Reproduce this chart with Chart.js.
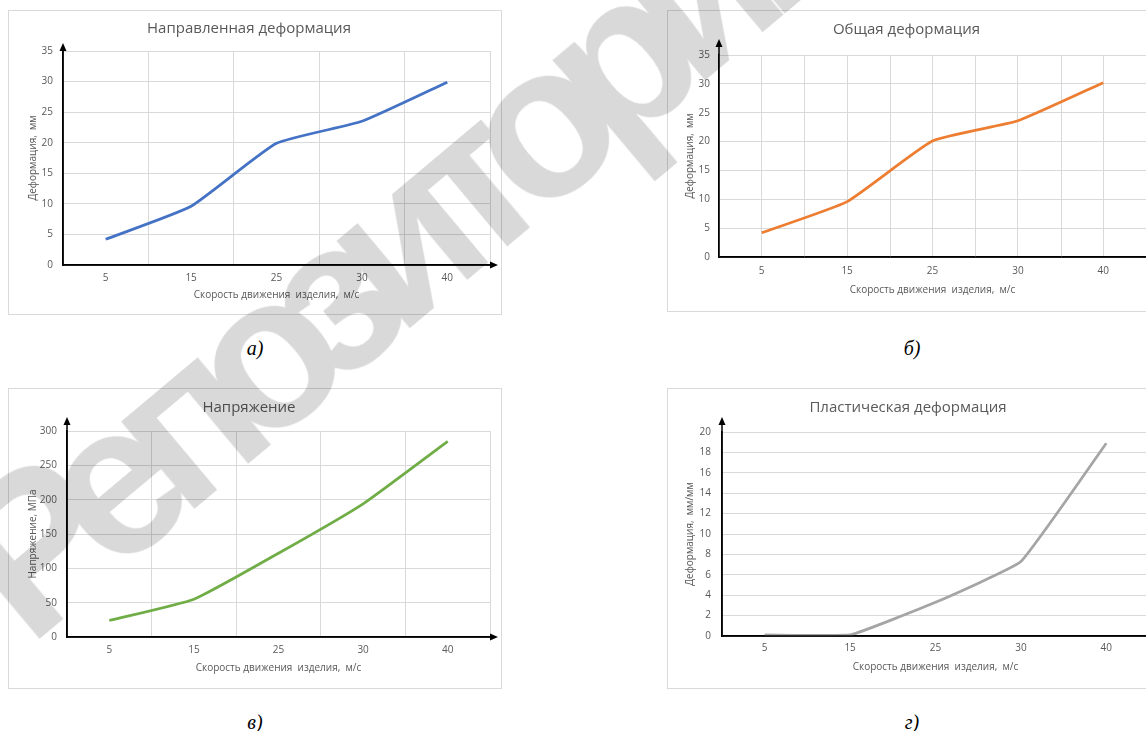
<!DOCTYPE html>
<html lang="ru">
<head>
<meta charset="utf-8">
<title>Деформация и напряжение</title>
<script src="https://cdn.jsdelivr.net/npm/chart.js@4.4.1/dist/chart.umd.min.js"></script>
<style>
  html, body { margin: 0; padding: 0; background: #fff; }
  body { position: relative; width: 1146px; height: 731px; overflow: hidden; }
  canvas.panel { position: absolute; outline: 1px solid #d9d9d9; outline-offset: -1px; background: #fff; }
  .caption { position: absolute; transform: translate(-50%, -50%); font-family: "Liberation Serif", serif; font-style: italic; font-size: 20px; color: #000; }
  .watermark {
    position: absolute; left: 393px; top: 245px;
    transform: translate(-50%, -50%) rotate(-40deg);
    font-family: "Liberation Sans", sans-serif; font-weight: bold; font-size: 215px;
    letter-spacing: -28px; line-height: 1; white-space: nowrap;
    color: #d9d9d9; mix-blend-mode: multiply; pointer-events: none;
  }
</style>
</head>
<body>
<canvas id="chartA" class="panel" width="494" height="305" style="left:8px;top:10px"></canvas>
<canvas id="chartB" class="panel" width="494" height="302" style="left:667px;top:10px"></canvas>
<canvas id="chartC" class="panel" width="494" height="301" style="left:8px;top:388px"></canvas>
<canvas id="chartD" class="panel" width="494" height="301" style="left:667px;top:388px"></canvas>
<div class="caption" style="left:255px;top:348px">а)</div>
<div class="caption" style="left:912px;top:348px">б)</div>
<div class="caption" style="left:255px;top:722px">в)</div>
<div class="caption" style="left:912px;top:722px">г)</div>
<div class="watermark">Репозиторий</div>
<script>
// Data
const speeds = ['5', '15', '25', '30', '40'];
const directional = [4.2, 9.6, 19.9, 23.5, 29.9];
const totalDef = [4.2, 9.6, 20.1, 23.6, 30.2];
const stress = [24, 55, 122, 194, 285];
const plastic = [0.1, 0.1, 3.3, 7.3, 18.9];
const yMax = [35, 35, 300, 20];
const yStep = [5, 5, 50, 2];

const FONT = '"Open Sans", sans-serif';
const TEXT = '#595959';
const GRID = '#d9d9d9';
const xTitle = 'Скорость движения  изделия,  м/с';

// axis lines with arrow heads
const axisArrows = {
    id: 'axisArrows',
    afterDraw(chart, args, opts) {
        const {ctx, chartArea: a} = chart;
        ctx.save();
        ctx.strokeStyle = '#000';
        ctx.fillStyle = '#000';
        ctx.lineWidth = 1.5;
        ctx.beginPath();
        ctx.moveTo(a.left, a.bottom);
        ctx.lineTo(a.left, a.top - opts.up + 5);
        ctx.moveTo(a.left, a.bottom);
        ctx.lineTo(a.right + opts.right - 5, a.bottom);
        ctx.stroke();
        ctx.beginPath();
        ctx.moveTo(a.left, a.top - opts.up);
        ctx.lineTo(a.left - 3.5, a.top - opts.up + 8);
        ctx.lineTo(a.left + 3.5, a.top - opts.up + 8);
        ctx.closePath();
        ctx.moveTo(a.right + opts.right, a.bottom);
        ctx.lineTo(a.right + opts.right - 8, a.bottom - 3.5);
        ctx.lineTo(a.right + opts.right - 8, a.bottom + 3.5);
        ctx.closePath();
        ctx.fill();
        ctx.restore();
    }
};

// extra vertical grid lines between categories
const boundaryGrid = {
    id: 'boundaryGrid',
    beforeDatasetsDraw(chart, args, opts) {
        if (!opts.show) return;
        const {ctx, chartArea: a, scales: {x}} = chart;
        const half = (x.getPixelForValue(1) - x.getPixelForValue(0)) / 2;
        ctx.save();
        ctx.strokeStyle = GRID;
        ctx.lineWidth = 1;
        for (let i = 0; i <= speeds.length; i++) {
            const px = Math.round(x.getPixelForValue(0) - half + i * half * 2) + 0.5;
            ctx.beginPath();
            ctx.moveTo(px, a.top);
            ctx.lineTo(px, a.bottom);
            ctx.stroke();
        }
        ctx.restore();
    }
};

function makeChart(id, c) {
    return new Chart(document.getElementById(id), {
        type: 'line',
        data: {
            labels: speeds,
            datasets: [{
                data: c.values,
                borderColor: c.color,
                borderWidth: 2.75,
                pointRadius: 0,
                tension: c.tension,
                fill: false
            }]
        },
        options: {
            responsive: false,
            animation: false,
            events: [],
            layout: { padding: { left: 0, right: c.padRight, top: 0, bottom: 0 } },
            plugins: {
                legend: { display: false },
                tooltip: { enabled: false },
                title: {
                    display: true,
                    text: c.title,
                    color: TEXT,
                    font: { family: FONT, size: 15, weight: 'normal' },
                    padding: { top: c.titleTop, bottom: c.titleBottom }
                },
                axisArrows: { up: c.arrowUp, right: 8 },
                boundaryGrid: { show: c.boundaryGrid }
            },
            scales: {
                x: {
                    offset: true,
                    grid: { display: c.xGrid, offset: c.xGridOffset, color: GRID, drawTicks: false },
                    border: { color: '#000', width: 1.5 },
                    ticks: { color: TEXT, font: { family: FONT, size: 10 }, padding: c.xTickPad, maxRotation: 0 },
                    title: {
                        display: true, text: xTitle, color: TEXT,
                        font: { family: FONT, size: 10 },
                        padding: { top: 0, bottom: c.xTitlePad }
                    },
                    afterFit: s => { s.height = c.xHeight; }
                },
                y: {
                    min: 0,
                    max: c.max,
                    grid: { color: GRID, drawTicks: false },
                    border: { color: '#000', width: 1.5 },
                    ticks: { stepSize: c.step, color: TEXT, font: { family: FONT, size: 10 }, padding: c.yTickPad },
                    title: {
                        display: true, text: c.yTitle, color: TEXT,
                        font: { family: FONT, size: 10 },
                        padding: { top: c.yTitlePad, bottom: 0 }
                    },
                    afterFit: s => { s.width = c.yWidth; }
                }
            }
        },
        plugins: [axisArrows, boundaryGrid]
    });
}

makeChart('chartA', {
    values: directional, color: '#4472C4', tension: 0.15,
    title: 'Направленная деформация', yTitle: 'Деформация,  мм',
    max: yMax[0], step: yStep[0],
    padRight: 12, titleTop: 10, titleBottom: 13,
    xHeight: 50, xTickPad: 7, xTitlePad: 14,
    yWidth: 55, yTickPad: 10, yTitlePad: 19,
    xGrid: true, xGridOffset: true, boundaryGrid: false, arrowUp: 8
});

makeChart('chartB', {
    values: totalDef, color: '#ED7D31', tension: 0.15,
    title: 'Общая деформация', yTitle: 'Деформация,  мм',
    max: yMax[1], step: yStep[1],
    padRight: 15, titleTop: 11, titleBottom: 16,
    xHeight: 55, xTickPad: 8, xTitlePad: 16,
    yWidth: 52, yTickPad: 9, yTitlePad: 17,
    xGrid: true, xGridOffset: false, boundaryGrid: true, arrowUp: 16
});

makeChart('chartC', {
    values: stress, color: '#70AD47', tension: 0.15,
    title: 'Напряжение', yTitle: 'Напряжение, МПа',
    max: yMax[2], step: yStep[2],
    padRight: 12, titleTop: 11, titleBottom: 14,
    xHeight: 52, xTickPad: 7, xTitlePad: 15,
    yWidth: 59, yTickPad: 10, yTitlePad: 19,
    xGrid: true, xGridOffset: true, boundaryGrid: false, arrowUp: 14
});

makeChart('chartD', {
    values: plastic, color: '#A5A5A5', tension: 0.1,
    title: 'Пластическая деформация', yTitle: 'Деформация,  мм/мм',
    max: yMax[3], step: yStep[3],
    padRight: 12, titleTop: 11, titleBottom: 15,
    xHeight: 53, xTickPad: 6, xTitlePad: 16,
    yWidth: 55, yTickPad: 11, yTitlePad: 17,
    xGrid: false, xGridOffset: false, boundaryGrid: false, arrowUp: 15
});
</script>
</body>
</html>
